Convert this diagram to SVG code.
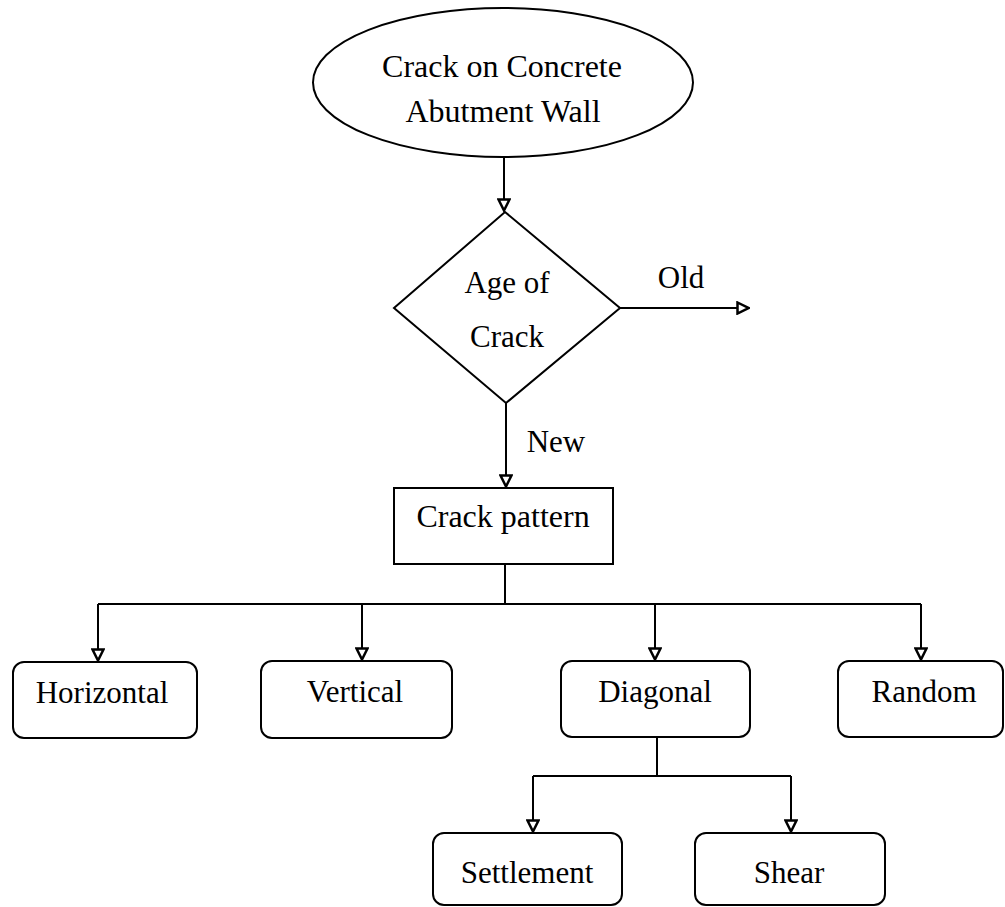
<svg xmlns="http://www.w3.org/2000/svg" width="1005" height="907" viewBox="0 0 1005 907">
<style>
  .shape { fill: #fff; stroke: #000; stroke-width: 2; }
  .conn { fill: none; stroke: #000; stroke-width: 2; }
  text { font-family: "Liberation Serif", "Times New Roman", serif; font-size: 31px; fill: #000; text-anchor: middle; }
  .big { font-size: 32px; }
</style>
<defs>
  <marker id="arr" viewBox="0 0 14 14" refX="13" refY="7" markerWidth="14" markerHeight="14" markerUnits="userSpaceOnUse" orient="auto">
    <path d="M1.5,1.5 L12.5,7 L1.5,12.5 Z" fill="#fff" stroke="#000" stroke-width="2.5" stroke-linejoin="miter"/>
  </marker>
</defs>
<rect width="1005" height="907" fill="#fff"/>
<g id="connectors">
  <path class="conn" d="M504,157 L504,211" marker-end="url(#arr)"/>
  <path class="conn" d="M620,308 L749,308" marker-end="url(#arr)"/>
  <path class="conn" d="M506,403 L506,487" marker-end="url(#arr)"/>
  <path class="conn" d="M505,564 L505,604"/>
  <path class="conn" d="M98,604 L921,604"/>
  <path class="conn" d="M98,604 L98,661" marker-end="url(#arr)"/>
  <path class="conn" d="M362,604 L362,660" marker-end="url(#arr)"/>
  <path class="conn" d="M655,604 L655,660" marker-end="url(#arr)"/>
  <path class="conn" d="M921,604 L921,660" marker-end="url(#arr)"/>
  <path class="conn" d="M657,737 L657,776"/>
  <path class="conn" d="M533,776 L791,776"/>
  <path class="conn" d="M533,776 L533,832" marker-end="url(#arr)"/>
  <path class="conn" d="M791,776 L791,832" marker-end="url(#arr)"/>
  <text x="681" y="288">Old</text>
  <text x="556" y="452">New</text>
</g>
<g id="start">
  <ellipse class="shape" cx="503" cy="82.5" rx="190" ry="74.5"/>
  <text class="big" x="502" y="77">Crack on Concrete</text>
  <text class="big" x="503" y="122">Abutment Wall</text>
</g>
<g id="age">
  <polygon class="shape" points="505,212 620,308 506,403 394,308"/>
  <text x="507" y="293">Age of</text>
  <text x="507" y="347">Crack</text>
</g>
<g id="pattern">
  <rect class="shape" x="394" y="488" width="219" height="76"/>
  <text class="big" x="503" y="527">Crack pattern</text>
</g>
<g id="horizontal">
  <rect class="shape" x="13" y="662" width="184" height="76" rx="11"/>
  <text x="102" y="703">Horizontal</text>
</g>
<g id="vertical">
  <rect class="shape" x="261" y="661" width="191" height="77" rx="11"/>
  <text x="355" y="702">Vertical</text>
</g>
<g id="diagonal">
  <rect class="shape" x="561" y="661" width="189" height="76" rx="11"/>
  <text x="655" y="702">Diagonal</text>
</g>
<g id="random">
  <rect class="shape" x="838" y="661" width="165" height="76" rx="11"/>
  <text x="924" y="702">Random</text>
</g>
<g id="settlement">
  <rect class="shape" x="433" y="833" width="189" height="72" rx="11"/>
  <text x="527" y="883">Settlement</text>
</g>
<g id="shear">
  <rect class="shape" x="695" y="833" width="190" height="72" rx="11"/>
  <text x="789" y="883">Shear</text>
</g>
</svg>
